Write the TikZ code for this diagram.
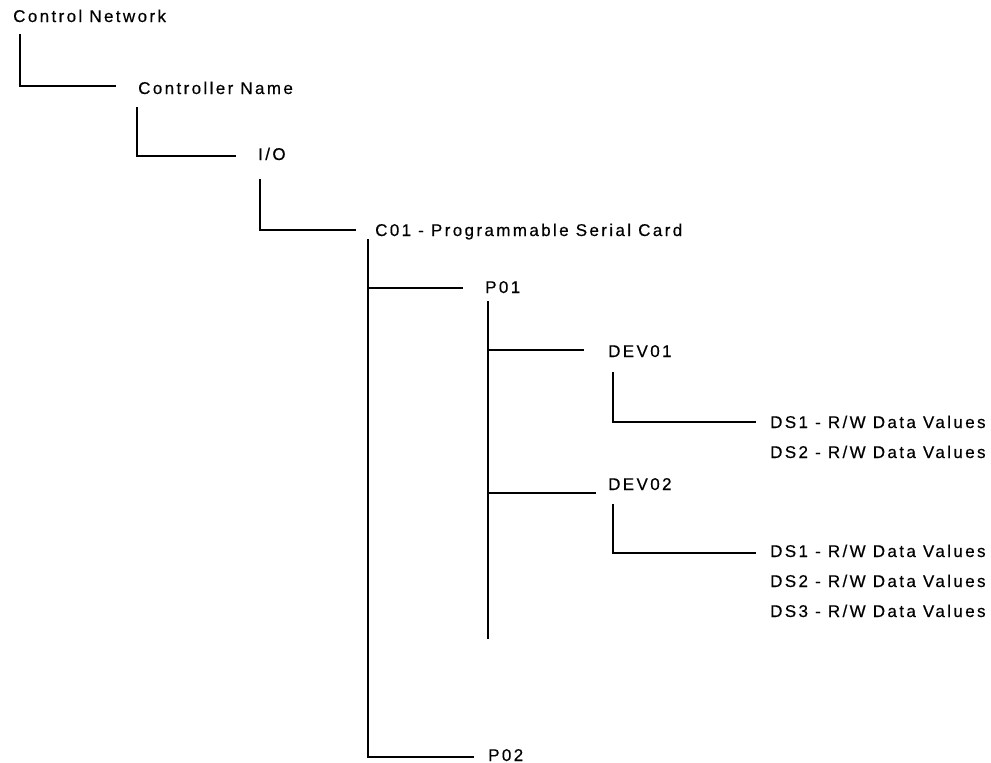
\documentclass[tikz,border=0pt]{standalone}
\usepackage{fontspec}
\setmainfont{Liberation Sans}[LetterSpace=14,FakeBold=0.4]
\begin{document}
\begin{tikzpicture}[x=1pt,y=-1pt,
  lbl/.style={anchor=base west,inner sep=0pt,font=\fontsize{17}{19}\selectfont},
  conn/.style={line width=1.3pt,line cap=rect}]
\useasboundingbox[fill=white] (0,0) rectangle (991,763);
% labels
\node[lbl] (cn)   at (13,22)  {Control Network};
\node[lbl] (cname) at (138,94) {Controller Name};
\node[lbl] (io)   at (258,160) {I/O};
\node[lbl] (c01)  at (375,236) {C01 - Programmable Serial Card};
\node[lbl] (p01)  at (485,293) {P01};
\node[lbl] (dev1) at (608,357) {DEV01};
\node[lbl] (d1s1) at (770,428) {DS1 - R/W Data Values};
\node[lbl] (d1s2) at (770,458) {DS2 - R/W Data Values};
\node[lbl] (dev2) at (608,490) {DEV02};
\node[lbl] (d2s1) at (770,557) {DS1 - R/W Data Values};
\node[lbl] (d2s2) at (770,587) {DS2 - R/W Data Values};
\node[lbl] (d2s3) at (770,617) {DS3 - R/W Data Values};
\node[lbl] (p02)  at (488,761) {P02};
% connector start points
\coordinate (t1) at (20,35);
\coordinate (t2) at (137,108);
\coordinate (t3) at (260,180);
\coordinate (t4) at (368,240);
\coordinate (t5) at (488,302);
\coordinate (b5) at (488,638);
\coordinate (t6) at (613,373);
\coordinate (t7) at (613,505);
% connectors
\draw[conn] (t1) |- ([shift={(-23,-8)}]cname.base west);
\draw[conn] (t2) |- ([shift={(-23,-4)}]io.base west);
\draw[conn] (t3) |- ([shift={(-20,-6)}]c01.base west);
\draw[conn] (t4) |- ([shift={(-23,-5)}]p01.base west);
\draw[conn] (t4) |- ([shift={(-15,-4)}]p02.base west);
\draw[conn] (t5) -- (b5);
\draw[conn] (t5) |- ([shift={(-25,-7)}]dev1.base west);
\draw[conn] (t5) |- ([shift={(-13,3)}]dev2.base west);
\draw[conn] (t6) |- ([shift={(-15,-6)}]d1s1.base west);
\draw[conn] (t7) |- ([shift={(-15,-4)}]d2s1.base west);
\end{tikzpicture}
\end{document}
